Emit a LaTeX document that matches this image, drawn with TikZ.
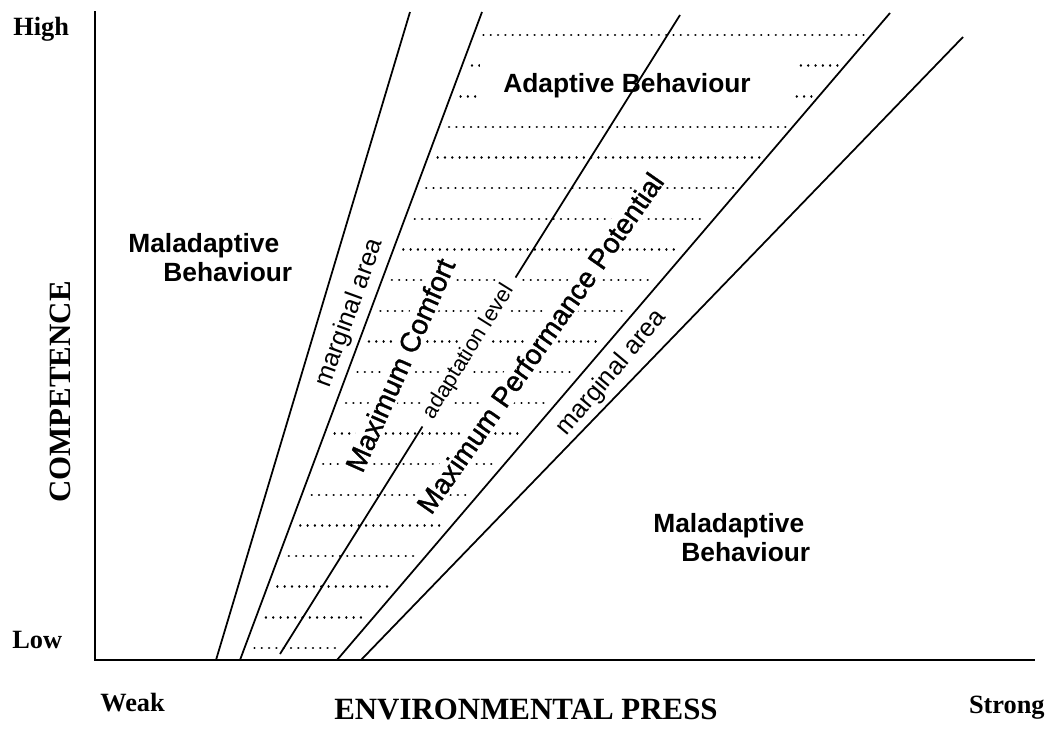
\documentclass[tikz,border=0pt]{standalone}
\usepackage{fontspec}
\setmainfont{Liberation Serif}
\setsansfont{Liberation Sans}
\newfontfamily\heavysans[FakeBold=1.2]{Liberation Sans}
\usepackage{tikz}

\begin{document}
\begin{tikzpicture}[x=0.02cm, y=-0.02cm,
    axis/.style={line width=1.2pt},
    bound/.style={line width=1pt},
    dotrow/.style={line width=1.4pt, line cap=round, dash pattern=on 0.01pt off 4.15pt},
    lbl/.style={font=\rmfamily\bfseries\fontsize{15}{17}\selectfont, inner sep=0pt},
    title/.style={font=\rmfamily\bfseries\fontsize{17.6}{20}\selectfont, inner sep=0pt},
    zone/.style={font=\sffamily\bfseries\fontsize{15}{16.5}\selectfont, align=left, inner sep=0pt},
    band/.style={font=\sffamily\fontsize{14.5}{16}\selectfont, fill=white, inner sep=1.5pt},
    peak/.style={font=\heavysans\fontsize{16}{18}\selectfont, fill=white, inner sep=1.5pt},
    level/.style={font=\sffamily\fontsize{12.5}{14}\selectfont, fill=white, inner xsep=6pt, inner ysep=1.5pt},
    ]
\useasboundingbox (0,0) rectangle (1050,728);

\coordinate (o) at (95,660);
\coordinate (ytop) at (95,11);
\coordinate (xend) at (1035,660);
\coordinate (m1a) at (216,660); \coordinate (m1b) at (410,12);
\coordinate (c1a) at (240,660); \coordinate (c1b) at (482,12);
\coordinate (ala) at (280,654); \coordinate (alb) at (680,15);
\coordinate (p1a) at (337,660); \coordinate (p1b) at (890,13);
\coordinate (m2a) at (361,660); \coordinate (m2b) at (963,37);

\foreach \k [evaluate=\k as \yy using {35+30.65*\k},
    evaluate=\k as \xa using {250+0.3735*(625-30.65*\k)},
    evaluate=\k as \xb using {330+0.8547*(625-30.65*\k)}] in {0,...,20}
    \draw[dotrow] (\xa,\yy) -- (\xb,\yy);

\fill[white] (480,56) rectangle (795,108);
\node[zone] (adapt) at (627,86) {Adaptive Behaviour};
\node[zone, anchor=north west] (mal1) at (128,233) {Maladaptive\\\hspace*{0.7cm}Behaviour};
\node[zone, anchor=north west] (mal2) at (653,513) {Maladaptive\\\hspace*{0.56cm}Behaviour};

\node[band, rotate=70] (marg1) at (350,313) {marginal area};
\node[peak, rotate=66] (comf) at (400,365) {Maximum Comfort};
\node[level, rotate=58] (alev) at (469,352) {adaptation level};
\node[peak, rotate=55] (mpp) at (540,343) {Maximum Performance Potential};
\node[band, rotate=50] (marg2) at (612,373) {marginal area};

\draw[axis] (ytop) -- (o) -- (xend);
\draw[bound] (m1a) -- (m1b) (c1a) -- (c1b) (p1a) -- (p1b) (m2a) -- (m2b);
\draw[bound] (ala) -- (alev.west) (alev.east) -- (alb);

\node[lbl, anchor=base west] (high) at (13,35) {High};
\node[lbl, anchor=base west] (low) at (12,648) {Low};
\node[lbl, anchor=base west] (weak) at (100,711) {Weak};
\node[lbl, anchor=base east] (strong) at (1045,713) {Strong};
\node[title, anchor=base] (env) at (526,719) {ENVIRONMENTAL PRESS};
\node[title, rotate=90] (comp) at (60,392) {COMPETENCE};
\end{tikzpicture}
\end{document}
